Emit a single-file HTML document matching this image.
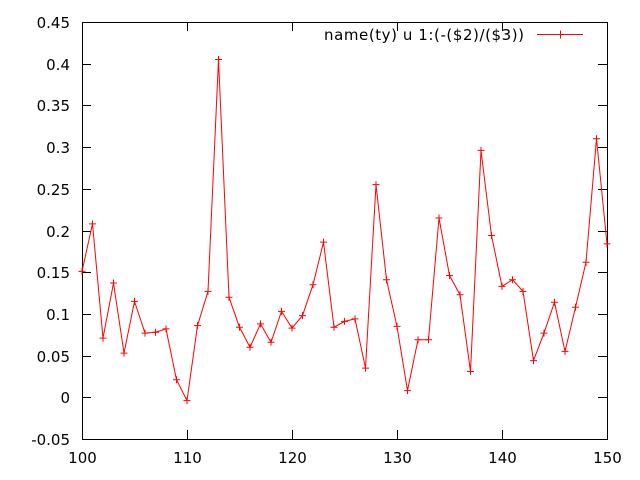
<!DOCTYPE html>
<html><head><meta charset="utf-8"><style>
html,body{margin:0;padding:0;background:#fff}
svg{display:block;font-family:"DejaVu Sans","Liberation Sans",sans-serif}
</style></head><body>
<svg id="chart" width="640" height="480" xmlns="http://www.w3.org/2000/svg">
<rect x="0" y="0" width="640" height="480" fill="#fff"/>
<g id="axes"></g>
<g id="series"></g>
<g>
<text x="324" y="40" font-size="15" textLength="200" lengthAdjust="spacing" fill="#000">name(ty) u 1:(-($2)/($3))</text>
<line x1="537" y1="34.5" x2="583" y2="34.5" stroke="#f00" stroke-width="1"/>
<path d="M556.5,34.5h8M560.5,30.5v8" stroke="#f00" stroke-width="1"/>
</g>
</svg>
<script>
const xValues=[100,101,102,103,104,105,106,107,108,109,110,111,112,113,114,115,116,117,118,119,120,121,122,123,124,125,126,127,128,129,130,131,132,133,134,135,136,137,138,139,140,141,142,143,144,145,146,147,148,149,150];
const yValues=[0.151,0.208,0.071,0.137,0.053,0.115,0.077,0.078,0.082,0.021,-0.004,0.086,0.127,0.405,0.12,0.084,0.06,0.088,0.066,0.103,0.083,0.098,0.135,0.186,0.084,0.091,0.094,0.035,0.255,0.141,0.085,0.008,0.069,0.069,0.215,0.146,0.123,0.031,0.296,0.194,0.133,0.141,0.127,0.044,0.077,0.114,0.055,0.108,0.162,0.31,0.184];
const xTicks=[100,110,120,130,140,150];
const yTicks=[-0.05,0,0.05,0.1,0.15,0.2,0.25,0.3,0.35,0.4,0.45];
const yTickLabels=["-0.05","0","0.05","0.1","0.15","0.2","0.25","0.3","0.35","0.4","0.45"];
const L=82,R=607,T=22,B=439,xMin=100,xMax=150,yMin=-0.05,yMax=0.45;
const sx=v=>L+(v-xMin)/(xMax-xMin)*(R-L);
const sy=v=>B-(v-yMin)/(yMax-yMin)*(B-T);
const NS="http://www.w3.org/2000/svg";
const axes=document.getElementById('axes'),ser=document.getElementById('series');
function mk(tag,attrs,parent){const e=document.createElementNS(NS,tag);for(const k in attrs)e.setAttribute(k,attrs[k]);parent.appendChild(e);return e;}
const frame=mk('rect',{x:L+0.5,y:T+0.5,width:R-L,height:B-T,fill:'none',stroke:'#000','stroke-width':1},axes);


yTicks.forEach((v,i)=>{const y=Math.round(sy(v))+0.5;
 const t=mk('path',{d:`M${L},${y}h9M${R},${y}h-9`,stroke:'#000','stroke-width':1},axes);
 
 
 const l=mk('text',{x:L-12,y:y+5.5,'font-size':15,'text-anchor':'end',fill:'#000'},axes);l.textContent=yTickLabels[i];
 
 
});
xTicks.forEach(v=>{const x=Math.round(sx(v))+0.5;
 const t=mk('path',{d:`M${x},${B}v-9M${x},${T}v9`,stroke:'#000','stroke-width':1},axes);
 
 
 const l=mk('text',{x:x,y:B+24,'font-size':15,'text-anchor':'middle',fill:'#000'},axes);l.textContent=String(v);
 
 
});
const pts=xValues.map((x,i)=>[sx(x),sy(yValues[i])]);
const line=mk('polyline',{points:pts.map(p=>p.join(',')).join(' '),fill:'none',stroke:'#f00','stroke-width':1},ser);


pts.forEach(p=>{const m=mk('path',{d:`M${p[0]-3.5},${p[1]}h7M${p[0]},${p[1]-3.5}v7`,stroke:'#f00','stroke-width':1},ser);
 
 
});
</script>
</body></html>
